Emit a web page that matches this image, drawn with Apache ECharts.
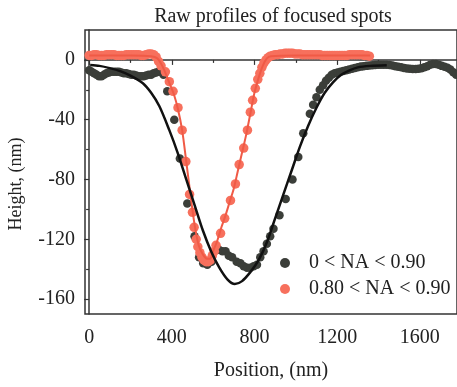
<!DOCTYPE html>
<html>
<head>
<meta charset="utf-8">
<script src="https://cdn.jsdelivr.net/npm/echarts@6/dist/echarts.min.js"></script>
<style>
  html, body { margin: 0; padding: 0; background: #fff; }
  #chart { width: 457px; height: 387px; }
</style>
</head>
<body>
<div id="chart"></div>
<script>
// Measured profile, 0 < NA < 0.90
const darkX = [0,12,24,36,48,60,72,84,96,108,120,132,144,156,168,180,192,204,216,228,240,252,264,276,288,300,312,324,336,348,360,
  378,412,439,475,510,532,552,572,592,612,628,645,660,676,692,714,732,748,764,780,796,812,828,844,860,876,892,921,951,984,1012,1036,1068,1084,1100,1116,1132,1146,1160,1174,
  1188,1202,1216,1230,1244,1258,1272,1286,1300,1314,1328,1342,1356,1370,1384,1398,1412,1426,1440,1454,1468,1482,1496,1510,1524,1538,1552,1566,1580,1594,1608,1622,1636,1650,1664,1678,1692,1706,1720,1734,1748,1762,1776];
const darkY = [-7,-8,-9,-10,-11,-11,-10,-9,-8.5,-8,-8,-8,-8,-8.5,-9,-9,-9.5,-10,-10,-10.5,-11,-11,-11,-10.5,-10,-10,-9,-8.5,-8,-8,-10,
  -21,-40,-66,-96,-118,-132,-136,-137,-135,-127,-127,-128,-128,-131,-132,-135,-136,-138,-139,-139,-138,-137,-132,-128,-123,-118,-113,-104,-93,-80,-65,-49,-36,-30,-25,-20,-17,-14,-12,-10,
  -9,-8.5,-8,-7.5,-7,-6.5,-6,-5.5,-5,-4.5,-4.2,-4,-3.8,-3.6,-3.4,-3.3,-3.2,-3.2,-3.2,-3.4,-3.8,-4.2,-4.6,-5,-5.4,-5.8,-6,-6.1,-6.1,-6,-5.6,-5,-4.2,-3.3,-2.7,-2.7,-3.2,-4,-4.6,-5.2,-6.5,-8.3,-10];

// Measured profile, 0.80 < NA < 0.90
const redX = [0,12,24,36,48,60,72,84,96,108,120,132,144,156,168,180,192,204,216,228,240,252,264,276,288,300,312,324,336,348,
  369,388,406,430,450,468,486,500,508,518,526,536,546,556,566,576,586,596,606,614,636,656,684,708,726,748,766,780,791,804,816,826,836,846,856,866,876,
  888,900,912,924,936,948,960,972,984,996,1008,1020,1032,1044,1056,1068,1080,1092,1104,1116,1128,1140,1152,1164,1176,1188,1200,1212,1224,1236,1248,1260,1272,1284,1296,1308,1320,1332,1344,1356];
const redY = [3,3,3.5,3.5,3,3,3,3.5,3.5,3.5,3.5,3,3,3,3,3.5,3.5,3.5,3.5,3.5,3.5,3,3,3.5,4,4,3.5,2,-1,-4,
  -8,-14.6,-21,-32,-47,-68,-90,-102,-112,-120,-125,-129,-132,-134,-135,-135,-134,-131,-128,-124,-116,-106,-94,-83,-70,-59,-47,-35,-27,-19,-13,-9,-5,-2,0,1.5,2.5,
  3,3.5,3.5,4,4,4.5,4.5,4.5,4.5,4,4,4,3.5,3.5,3.5,3.5,3.5,3.5,3.5,3.5,3,3,3,3,3,3,3,3,3,3,3,3.5,3.5,3.5,3.5,3.5,3.5,3,3,2.5];

// Fitted curves
const darkFitX = [5,50,100,150,200,260,300,340,388,428,470,510,550,590,630,670,705,740,780,820,860,900,940,980,1020,1060,1100,1140,1180,1220,1260,1300,1360,1440];
const darkFitY = [-3.4,-4,-5.5,-7.5,-10.5,-15.6,-22,-31,-47,-62,-80,-97,-114,-128,-139,-147,-150,-148,-142,-134,-122,-106,-90,-74,-58,-44,-32,-22,-15,-10,-7,-5,-4,-3.5];
const redFitX = [0,100,200,300,330,350,370,390,410,430,450,470,490,510,530,550,570,585,600,620,640,660,680,700,720,740,760,780,800,820,840,860,880,1000,1360];
const redFitY = [3,3,3,2.5,1,-3,-9,-16,-23,-33,-47,-68,-90,-110,-124,-130,-133,-133,-128,-121,-112,-104,-95,-86,-74,-62,-50,-36,-22,-12,-4,1,2.5,3,3];

// Axis ticks
const xMajor = [0, 400, 800, 1200, 1600];
const xMinor = [200, 600, 1000, 1400];
const yMajor = [-160, -120, -80, -40, 0];
const yMinor = [-140, -100, -60, -20];

const names = ['0 < NA < 0.90', '0.80 < NA < 0.90'];
const darkColor = '#3b3e39';
const redColor = '#f7705d';

const zip = (xs, ys) => xs.map((x, i) => [x, ys[i]]);
const FONT = 'Liberation Serif';
const axisCol = '#333';

const chart = echarts.init(document.getElementById('chart'), null, { renderer: 'canvas' });
chart.setOption({
  animation: false,
  backgroundColor: '#fff',
  title: {
    text: 'Raw profiles of focused spots',
    left: 268, top: 2, textAlign: 'center',
    textStyle: { fontFamily: FONT, fontSize: 20, fontWeight: 'normal', color: '#222' }
  },
  grid: {
    left: 85, top: 30, width: 375, height: 284,
    show: true, borderColor: axisCol, borderWidth: 1.5, backgroundColor: 'transparent'
  },
  legend: {
    orient: 'vertical', left: 275, top: 248,
    itemWidth: 38, itemHeight: 10, itemGap: 6,
    textStyle: { fontFamily: FONT, fontSize: 20, color: '#222', lineHeight: 20 },
    data: [{ name: names[0], icon: 'circle' }, { name: names[1], icon: 'circle' }]
  },
  // vertical axis title, placed beside the value axis
  graphic: [{
    type: 'text', x: 16, y: 184, rotation: Math.PI / 2,
    style: {
      text: 'Height, (nm)', fill: '#222',
      font: '18px "Liberation Serif"', textAlign: 'center', textVerticalAlign: 'middle'
    }
  }],
  xAxis: [{
    type: 'value', min: -20, max: 1780,
    name: 'Position, (nm)', nameLocation: 'middle', nameGap: 47,
    nameTextStyle: { fontFamily: FONT, fontSize: 20, color: '#222' },
    axisLine: { lineStyle: { color: axisCol, width: 1.5 } },
    axisTick: { length: 5, customValues: xMajor, lineStyle: { color: axisCol, width: 1.2 } },
    axisLabel: { customValues: xMajor, margin: 14, fontFamily: FONT, fontSize: 20, color: '#222',
      formatter: v => String(v) },
    splitLine: { show: false }
  }, {
    type: 'value', min: -20, max: 1780, position: 'bottom',
    axisLine: { show: false },
    axisTick: { length: 3, customValues: xMinor, lineStyle: { color: axisCol, width: 1.2 } },
    axisLabel: { show: false }, splitLine: { show: false }
  }],
  yAxis: [{
    type: 'value', min: -170, max: 20,
    axisLine: { lineStyle: { color: axisCol, width: 1.5 } },
    axisTick: { length: 5, customValues: yMajor, lineStyle: { color: axisCol, width: 1.2 } },
    axisLabel: { customValues: yMajor, margin: 10, fontFamily: FONT, fontSize: 20, color: '#222',
      formatter: v => String(v) },
    splitLine: { show: false }
  }, {
    type: 'value', min: -170, max: 20, position: 'left',
    axisLine: { show: false },
    axisTick: { length: 3, customValues: yMinor, lineStyle: { color: axisCol, width: 1.2 } },
    axisLabel: { show: false }, splitLine: { show: false }
  }],
  series: [
    {
      name: names[0], type: 'scatter', symbol: 'circle', symbolSize: 8.5,
      itemStyle: { color: darkColor, opacity: 1 },
      data: zip(darkX, darkY), z: 2
    },
    {
      name: names[1], type: 'scatter', symbol: 'circle', symbolSize: 9.5,
      itemStyle: { color: redColor, opacity: 1 },
      data: zip(redX, redY), z: 3
    },
    {
      name: 'redFit', type: 'line', smooth: 0.3, showSymbol: false,
      lineStyle: { color: '#f05a46', width: 2 },
      data: zip(redFitX, redFitY), z: 4
    },
    {
      name: 'darkFit', type: 'line', smooth: 0.3, showSymbol: false,
      lineStyle: { color: '#111', width: 2.5 },
      data: zip(darkFitX, darkFitY), z: 5
    }
  ]
});
</script>
</body>
</html>
